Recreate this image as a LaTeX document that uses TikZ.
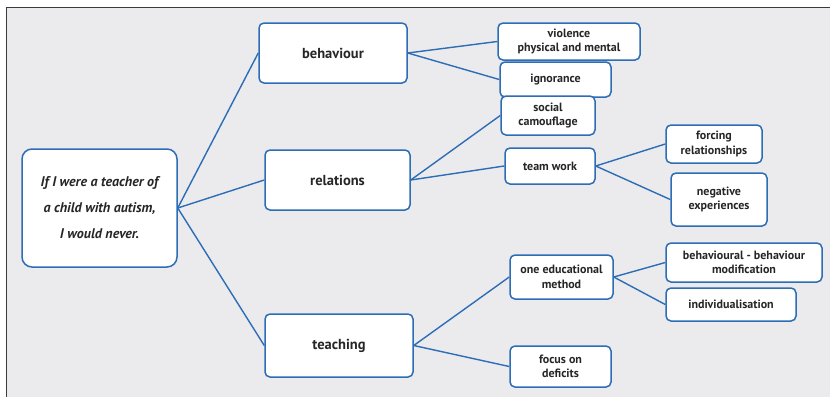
\documentclass[tikz,border=0pt]{standalone}
\usepackage{fontspec}
\setmainfont{PT Sans}
\usepackage{xcolor}
\definecolor{mapblue}{HTML}{2C6DB6}
\definecolor{mapgrey}{HTML}{EBEBEE}
\definecolor{maptext}{HTML}{262626}
\definecolor{mapframe}{HTML}{3A3A3A}

\tikzset{
  mapbox/.style={draw=mapblue, fill=white, line width=1.5pt, rounded corners=5pt,
                 align=center, text=maptext, inner sep=1pt},
  topicbox/.style={mapbox, font=\fontsize{14.5}{17}\selectfont\bfseries},
  leafbox/.style={mapbox, font=\fontsize{12}{14.5}\selectfont\bfseries},
  link/.style={draw=mapblue, line width=1.4pt}
}

\begin{document}
\begin{tikzpicture}[x=1pt, y=-1pt]
  \useasboundingbox (0,0) rectangle (830,397);
  \fill[mapgrey] (6,7) rectangle (830,397);
  \draw[mapframe, line width=1pt] (6,397) -- (6,7) -- (830,7);

  % root
  \node[mapbox, rounded corners=10pt, minimum width=155pt, minimum height=118pt,
        font=\fontsize{14}{26}\selectfont\bfseries\itshape] (root) at (99.5,208)
        {If I were a teacher of\\a child with autism,\\I would never.};

  % topics
  \node[topicbox, minimum width=148pt, minimum height=60pt] (beh) at (333,53) {behaviour};
  \node[topicbox, minimum width=145pt, minimum height=60pt] (rel) at (337.5,180) {relations};
  \node[topicbox, minimum width=148pt, minimum height=63pt] (teach) at (339,345.5) {teaching};

  % leaves
  \node[leafbox, minimum width=142pt, minimum height=37pt] (viol) at (569,41.5) {violence\\physical and mental};
  \node[leafbox, minimum width=111pt, minimum height=35pt] (ign) at (555.5,79.5) {ignorance};
  \node[leafbox, minimum width=94pt, minimum height=39pt] (soc) at (548,115.5) {social\\camouflage};
  \node[leafbox, minimum width=90pt, minimum height=36pt] (team) at (550,166) {team work};
  \node[leafbox, minimum width=96pt, minimum height=38pt] (forc) at (714,144) {forcing\\relationships};
  \node[leafbox, minimum width=96pt, minimum height=53pt] (neg) at (719,199.5) {negative\\experiences};
  \node[leafbox, minimum width=103pt, minimum height=44pt] (method) at (561.5,277) {one educational\\method};
  \node[leafbox, minimum width=156pt, minimum height=39pt] (modif) at (744,262.5) {behavioural - behaviour\\modification};
  \node[leafbox, minimum width=130pt, minimum height=33pt] (indiv) at (731,304.5) {individualisation};
  \node[leafbox, minimum width=101pt, minimum height=41pt] (focus) at (560.5,366.5) {focus on\\deficits};

  % connectors
  \foreach \a/\b in {root/beh, root/rel, root/teach, beh/viol, beh/ign, rel/soc, rel/team,
                     team/forc, team/neg, teach/method, teach/focus, method/modif, method/indiv}
    \draw[link] (\a.east) -- (\b.west);
\end{tikzpicture}
\end{document}
